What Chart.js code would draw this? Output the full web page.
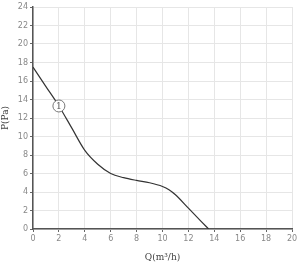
<!DOCTYPE html>
<html>
<head>
<meta charset="utf-8">
<script src="https://cdn.jsdelivr.net/npm/chart.js@4/dist/chart.umd.min.js"></script>
<style>
  html, body { margin: 0; padding: 0; background: #fff; }
  #wrap { width: 300px; height: 263px; }
</style>
</head>
<body>
<div id="wrap"><canvas id="c"></canvas></div>
<script>
// Q (m3/h) and P (Pa)
const flow = [0, 1, 2, 3, 4, 5, 6, 7, 8, 9, 10, 10.5, 11, 12, 13, 13.56]
const pressure = [17.5, 15.4, 13.3, 10.9, 8.5, 7.0, 6.0, 5.55, 5.25, 5.0, 4.6, 4.25, 3.7, 2.25, 0.8, 0]
const markerAt = { x: 2.0, y: 13.3 }
const markerText = '1'

const curve = flow.map((q, i) => ({ x: q, y: pressure[i] }))

const markerLabel = {
  id: 'markerLabel',
  afterDatasetsDraw(chart) {
    const { ctx, scales } = chart
    const px = scales.x.getPixelForValue(markerAt.x)
    const py = scales.y.getPixelForValue(markerAt.y)
    ctx.save()
    ctx.fillStyle = '#555'
    ctx.font = '9px "DejaVu Serif"'
    ctx.textAlign = 'center'
    ctx.textBaseline = 'middle'
    ctx.fillText(markerText, px, py + 0.5)
    ctx.restore()
  }
}

const tickFont = { family: '"DejaVu Sans"', size: 8 }
const titleFont = { family: '"DejaVu Serif"', size: 9 }

new Chart(document.getElementById('c'), {
  type: 'scatter',
  data: {
    datasets: [
      {
        data: [markerAt],
        pointRadius: 6,
        pointBackgroundColor: '#fff',
        pointBorderColor: '#777',
        pointBorderWidth: 1,
        order: 0
      },
      {
        data: curve,
        showLine: true,
        borderColor: '#333',
        borderWidth: 1.2,
        cubicInterpolationMode: 'monotone',
        pointRadius: 0,
        order: 1
      }
    ]
  },
  options: {
    responsive: true,
    maintainAspectRatio: false,
    animation: false,
    layout: { padding: { top: 5, right: 8, left: 0, bottom: 0 } },
    plugins: { legend: { display: false }, tooltip: { enabled: false } },
    scales: {
      x: {
        type: 'linear',
        min: 0,
        max: 20,
        afterFit: s => { s.height = 34 },
        ticks: { stepSize: 2, color: '#888', font: tickFont, padding: 2 },
        grid: { color: '#e6e6e6', tickColor: '#666', tickLength: 3 },
        border: { color: '#555', width: 1.5 },
        title: {
          display: true,
          text: 'Q(m³/h)',
          color: '#444',
          font: titleFont,
          padding: { top: 6, bottom: 0 }
        }
      },
      y: {
        min: 0,
        max: 24,
        afterFit: s => { s.width = 33 },
        ticks: { stepSize: 2, color: '#888', font: tickFont, padding: 2 },
        grid: { color: '#e6e6e6', tickColor: '#666', tickLength: 3 },
        border: { color: '#555', width: 1.5 },
        title: {
          display: true,
          text: 'P(Pa)',
          color: '#444',
          font: titleFont,
          padding: { top: 0, bottom: 4 }
        }
      }
    }
  },
  plugins: [markerLabel]
})
</script>
</body>
</html>
